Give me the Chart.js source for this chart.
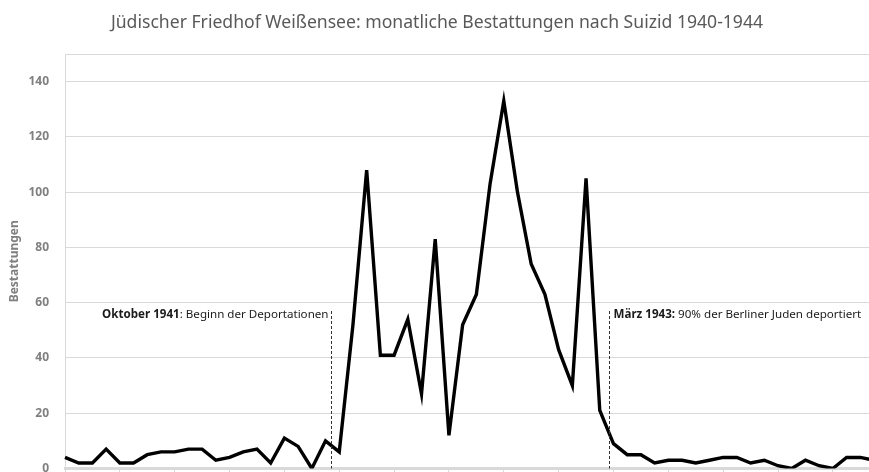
<!DOCTYPE html>
<html>
<head>
<meta charset="utf-8">
<script src="https://cdn.jsdelivr.net/npm/chart.js@4.4.1/dist/chart.umd.min.js"></script>
<style>
  html, body { margin: 0; padding: 0; background: #fff; overflow: hidden; }
  #wrap { width: 877px; height: 500px; }
</style>
</head>
<body>
<div id="wrap"><canvas id="suizidchart" width="877" height="500"></canvas></div>
<script>
 "use strict";

	/*----------------------------------------*/
	/*  data
	/*----------------------------------------*/
	var years = [1940, 1941, 1942, 1943, 1944];
	var months = ["01", "02", "03", "04", "05", "06", "07", "08", "09", "10", "11", "12"];
	var monthLabels = [];
	years.forEach(function (y) {
		months.forEach(function (m) { monthLabels.push(m + "/" + y); });
	});

	var burials = [
		4, 2, 2, 7, 2, 2, 5, 6, 6, 7, 7, 3,
		4, 6, 7, 2, 11, 8, 0, 10, 6, 52, 108, 41,
		41, 54, 27, 83, 12, 52, 63, 103, 133, 100, 74, 63,
		43, 30, 105, 21, 9, 5, 5, 2, 3, 3, 2, 3,
		4, 4, 2, 3, 1, 0, 3, 1, 0, 4, 4, 3
	];

	var yTicks = [0, 20, 40, 60, 80, 100, 120, 140];

	var chartTitle = "Jüdischer Friedhof Weißensee: monatliche Bestattungen nach Suizid 1940-1944";
	var yAxisTitle = "Bestattungen";

	// annotations: position on the category axis (index), bold part, normal part, side
	var notes = [
		{ at: 19.4, bold: "Oktober 1941", text: ": Beginn der Deportationen", side: "left" },
		{ at: 39.7, bold: "März 1943:", text: " 90% der Berliner Juden deportiert", side: "right" }
	];

	/*----------------------------------------*/
	/*  annotation plugin
	/*----------------------------------------*/
	var notePlugin = {
		id: 'notes',
		afterDatasetsDraw: function (chart) {
			var ctx = chart.ctx;
			var xs = chart.scales.x;
			var ys = chart.scales.y;
			var textY = 314.5;
			ctx.save();
			notes.forEach(function (n) {
				var px = Math.round(xs.getPixelForValue(n.at)) + 0.5;
				ctx.beginPath();
				ctx.setLineDash([3, 2]);
				ctx.lineWidth = 1;
				ctx.strokeStyle = '#333';
				ctx.moveTo(px, 311);
				ctx.lineTo(px, ys.bottom);
				ctx.stroke();
				ctx.setLineDash([]);

				ctx.textBaseline = 'middle';
				ctx.fillStyle = '#1a1a1a';
				var boldFont = "bold 11.6px 'Noto Sans'";
				var normFont = "11.6px 'Noto Sans'";
				ctx.font = boldFont;
				var wb = ctx.measureText(n.bold).width;
				ctx.font = normFont;
				var wn = ctx.measureText(n.text).width;
				var x0 = n.side === "left" ? px - 3 - wb - wn : px + 4;
				ctx.textAlign = 'left';
				ctx.font = boldFont;
				ctx.fillText(n.bold, x0, textY);
				ctx.font = normFont;
				ctx.fillText(n.text, x0 + wb, textY);
			});
			ctx.restore();
		}
	};

	/*----------------------------------------*/
	/*  line chart
	/*----------------------------------------*/
	var ctx = document.getElementById("suizidchart");
	var suizidchart = new Chart(ctx, {
		type: 'line',
		data: {
			labels: monthLabels,
			datasets: [{
				label: yAxisTitle,
				data: burials,
				borderColor: '#000',
				borderWidth: 3.4,
				pointRadius: 0,
				tension: 0,
				fill: false
			}]
		},
		options: {
			responsive: false,
			animation: false,
			devicePixelRatio: 1,
			layout: { padding: { left: 0, right: 3, top: 0, bottom: 0 } },
			plugins: {
				legend: { display: false },
				tooltip: { enabled: false },
				title: {
					display: true,
					text: chartTitle,
					color: '#595959',
					font: { family: "'Noto Sans'", size: 17.6, weight: 'normal' },
					padding: { top: 12, bottom: 20.9 }
				}
			},
			scales: {
				x: {
					grid: {
						drawOnChartArea: false,
						drawTicks: true,
						tickLength: 6,
						color: '#d9d9d9'
					},
					border: { color: '#d9d9d9', width: 3 },
					ticks: {
						color: '#7f7f7f',
						font: { family: "'Noto Sans'", size: 11 },
						maxRotation: 0,
						autoSkip: true
					},
					afterFit: function (scale) {
						scale.height = 31.5;
						scale.paddingLeft = 0;
						scale.paddingRight = 0;
					}
				},
				y: {
					min: 0,
					max: 150,
					afterBuildTicks: function (scale) {
						scale.ticks = yTicks.concat([150]).map(function (v) { return { value: v }; });
					},
					grid: { color: '#d9d9d9', drawTicks: false, lineWidth: 1 },
					border: { color: '#d9d9d9', width: 1 },
					ticks: {
						color: '#7f7f7f',
						padding: 16,
						font: { family: "'Noto Sans'", size: 12, weight: 'bold' },
						callback: function (v) { return yTicks.indexOf(v) >= 0 ? v : ''; }
					},
					title: {
						display: true,
						text: yAxisTitle,
						color: '#7f7f7f',
						font: { family: "'Noto Sans'", size: 12, weight: 'bold' },
						padding: { top: 7, bottom: 0 }
					},
					afterFit: function (scale) {
						scale.width = 65;
					}
				}
			}
		},
		plugins: [notePlugin]
	});
</script>
</body>
</html>
